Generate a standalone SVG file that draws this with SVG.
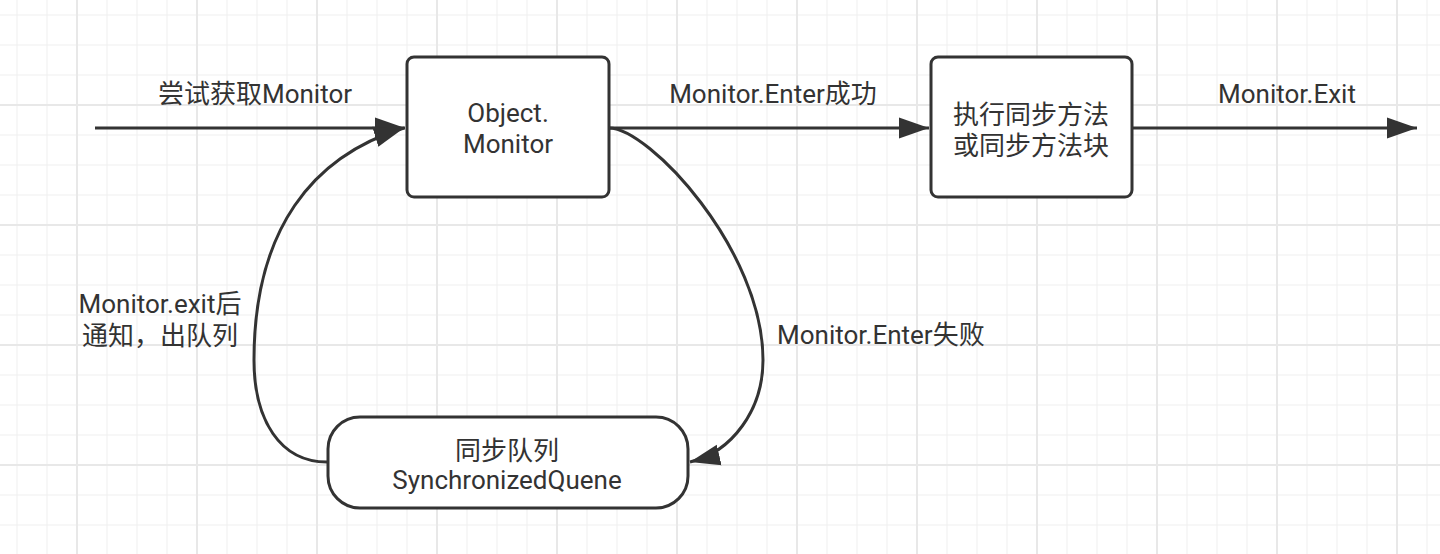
<svg xmlns="http://www.w3.org/2000/svg" width="1440" height="554" viewBox="0 0 1440 554">
<style>
text{font-family:Roboto,"Noto Sans CJK SC",sans-serif;font-size:26px;fill:#333}
.c{text-anchor:middle}
.box{fill:#fff;stroke:#333;stroke-width:3}
.ln{fill:none;stroke:#333;stroke-width:3}
</style>
<defs>
<pattern id="gmin" patternUnits="userSpaceOnUse" x="16.5" y="14.5" width="30" height="30">
<path d="M0.5 0V30M0 0.5H30" stroke="#efefef" stroke-width="1" fill="none"/>
</pattern>
<pattern id="gmaj" patternUnits="userSpaceOnUse" x="76" y="104" width="120" height="120">
<path d="M1 0V120M0 1H120" stroke="#e8e8e8" stroke-width="2" fill="none"/>
</pattern>
<marker id="ah" markerUnits="userSpaceOnUse" markerWidth="32" markerHeight="24" refX="30" refY="12" orient="auto" viewBox="0 0 32 24">
<path d="M0 1.5L30 12L0 22.5Z" fill="#333"/>
</marker>
</defs>
<rect width="1440" height="554" fill="#fff"/>
<rect width="1440" height="554" fill="url(#gmin)"/>
<rect width="1440" height="554" fill="url(#gmaj)"/>
<g id="connectors">
<path class="ln" d="M95 128H405" marker-end="url(#ah)"/>
<path class="ln" d="M609 128H929" marker-end="url(#ah)"/>
<path class="ln" d="M1132 128H1417" marker-end="url(#ah)"/>
<path class="ln" d="M327 462C280 462 254 420 254 360C254 230 312 156 404 128" marker-end="url(#ah)"/>
<path class="ln" d="M609 128C649 128 763 250 763 360C763 410 732 452 690 462" marker-end="url(#ah)"/>
<text class="c" x="255" y="103">尝试获取Monitor</text>
<text class="c" x="773" y="103">Monitor.Enter成功</text>
<text class="c" x="1287" y="103">Monitor.Exit</text>
<text class="c" x="160" y="313">Monitor.exit后</text>
<text class="c" x="160" y="345">通知，出队列</text>
<text x="777" y="344">Monitor.Enter失败</text>
</g>
<g id="object-monitor">
<rect class="box" x="407" y="57" width="202" height="140" rx="7"/>
<text class="c" x="508" y="122">Object.</text>
<text class="c" x="508" y="153">Monitor</text>
</g>
<g id="execute">
<rect class="box" x="931" y="57" width="201" height="140" rx="7"/>
<text class="c" x="1031" y="124">执行同步方法</text>
<text class="c" x="1031" y="155">或同步方法块</text>
</g>
<g id="sync-queue">
<rect class="box" x="328" y="417" width="360" height="91" rx="32" ry="32"/>
<text class="c" x="507" y="460">同步队列</text>
<text class="c" x="507" y="489">SynchronizedQuene</text>
</g>
</svg>
